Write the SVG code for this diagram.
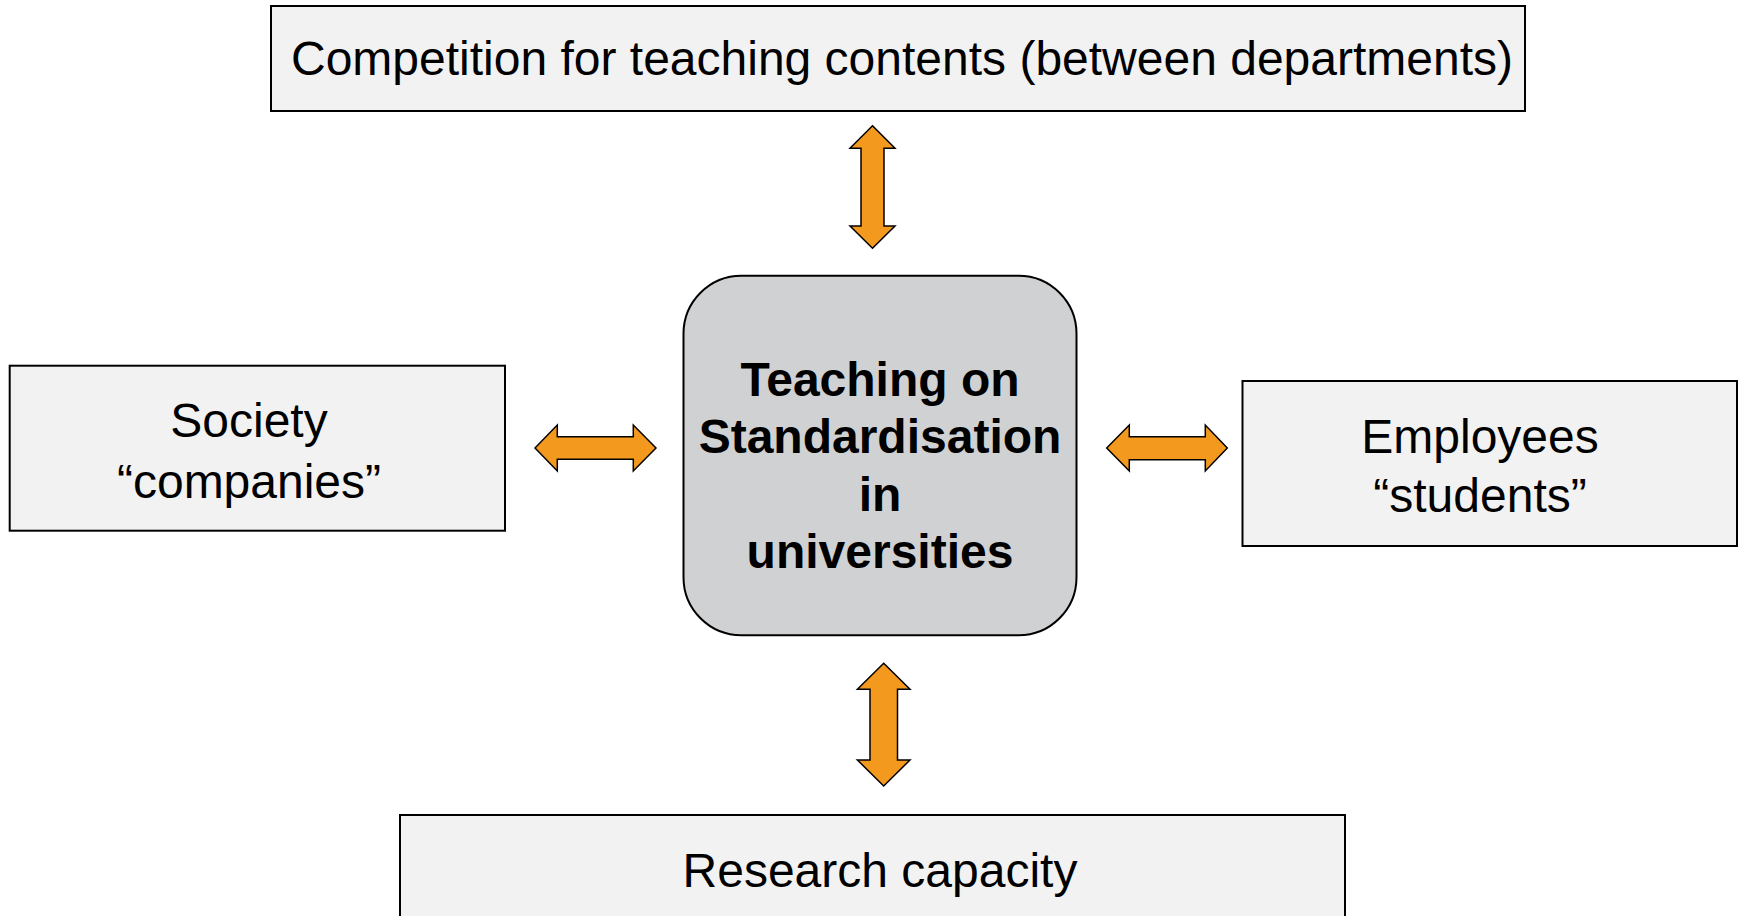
<svg xmlns="http://www.w3.org/2000/svg" width="1742" height="916" viewBox="0 0 1742 916">
<style>
.box{fill:#f2f2f2;stroke:#000;stroke-width:2}
.core{fill:#d0d1d3;stroke:#000;stroke-width:2}
.arr{fill:#f39a1e;stroke:#000;stroke-width:1.5;stroke-linejoin:miter}
.t{font-family:"Liberation Sans",Arial,sans-serif;font-size:48px;fill:#000;text-anchor:middle}
.b{font-weight:bold}
</style>
<rect width="1742" height="916" fill="#fff"/>
<g id="top">
<rect class="box" x="271" y="6" width="1254" height="105"/>
<text class="t" x="902" y="75">Competition for teaching contents (between departments)</text>
</g>
<g id="left">
<rect class="box" x="9.7" y="365.7" width="495.3" height="165"/>
<text class="t" x="249" y="437.3">Society</text>
<text class="t" x="249" y="497.5">“companies”</text>
</g>
<g id="right">
<rect class="box" x="1242.5" y="381" width="494.5" height="165"/>
<text class="t" x="1480" y="453.3">Employees</text>
<text class="t" x="1480" y="512">“students”</text>
</g>
<g id="bottom">
<rect class="box" x="400" y="815" width="945" height="120"/>
<text class="t" x="880" y="886.7">Research capacity</text>
</g>
<g id="center">
<rect class="core" x="683.5" y="275.7" width="393" height="359.5" rx="58" ry="58"/>
<text class="t b" x="880" y="395.5">Teaching on</text>
<text class="t b" x="880" y="453">Standardisation</text>
<text class="t b" x="880" y="511">in</text>
<text class="t b" x="880" y="568">universities</text>
</g>
<g id="connectors">
<path class="arr" d="M872.5,125.7 L895,148.3 L884,148.3 L884,226 L895,226 L872.5,248.3 L850,226 L861,226 L861,148.3 L850,148.3 Z"/>
<path class="arr" d="M883.7,663.3 L910,689.3 L897.5,689.3 L897.5,760 L910,760 L883.7,786 L857.4,760 L870,760 L870,689.3 L857.4,689.3 Z"/>
<path class="arr" d="M535,448 L557.3,425 L557.3,436.7 L633.3,436.7 L633.3,425 L656,448 L633.3,471 L633.3,459.3 L557.3,459.3 L557.3,471 Z"/>
<path class="arr" d="M1106.7,448 L1129.3,425 L1129.3,436.7 L1205.3,436.7 L1205.3,425 L1227.3,448 L1205.3,471 L1205.3,459.7 L1129.3,459.7 L1129.3,471 Z"/>
</g>
</svg>
